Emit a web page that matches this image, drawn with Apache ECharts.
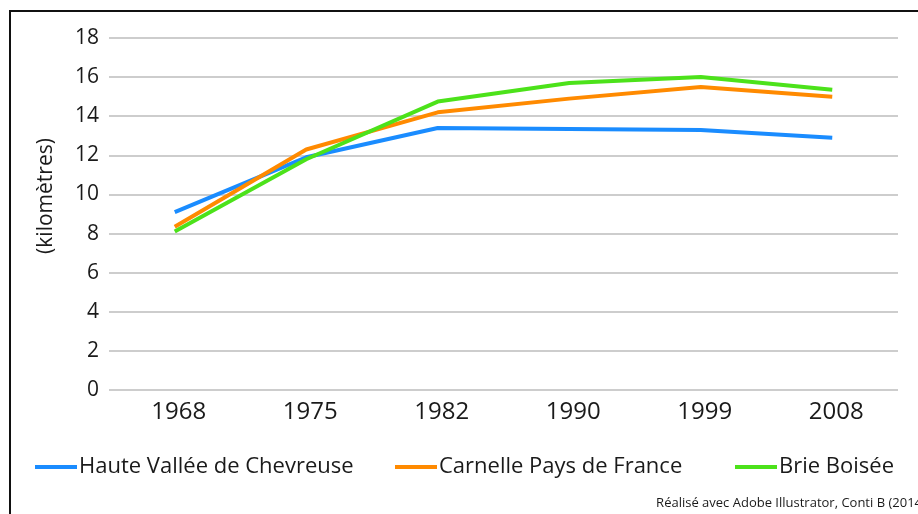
<!DOCTYPE html>
<html>
<head>
<meta charset="utf-8">
<script src="https://cdn.jsdelivr.net/npm/echarts@6/dist/echarts.min.js"></script>
<style>
html, body { margin: 0; padding: 0; background: #fff; }
#chart { width: 918px; height: 514px; }
</style>
</head>
<body>
<div id="chart"></div>
<script>
// données
var annees = ['1968', '1975', '1982', '1990', '1999', '2008'];
var hauteVallee = [9.1, 11.9, 13.4, 13.35, 13.3, 12.9];
var carnelle = [8.35, 12.3, 14.2, 14.9, 15.5, 15.0];
var brieBoisee = [8.1, 11.8, 14.75, 15.7, 16.0, 15.35];
var nomsSeries = ['Haute Vallée de Chevreuse', 'Carnelle Pays de France', 'Brie Boisée'];
var couleurs = ['#1a8cff', '#ff8a00', '#4ce21a'];

var police = 'Open Sans';
var myChart = echarts.init(document.getElementById('chart'));

function serie(i, data) {
	return {
		name: nomsSeries[i],
		type: 'line',
		data: data,
		symbol: 'none',
		lineStyle: { color: couleurs[i], width: 4 },
		itemStyle: { color: couleurs[i] }
	};
}

function legende(i, left) {
	return {
		data: [nomsSeries[i]],
		left: left,
		top: 451,
		itemWidth: 42,
		itemHeight: 4,
		itemGap: 0,
		icon: 'rect',
		textStyle: { fontFamily: police, fontSize: 22, color: '#1a1a1a', padding: [0, 0, 0, -3] }
	};
}

var option = {
	backgroundColor: '#fff',
	animation: false,
	grid: { left: 109, right: 20, top: 38, bottom: 124 },
	legend: [legende(0, 30), legende(1, 390), legende(2, 730)],
	xAxis: {
		type: 'category',
		data: annees,
		boundaryGap: true,
		axisLine: { show: false },
		axisTick: { show: false },
		axisLabel: { fontFamily: police, fontSize: 24, color: '#1a1a1a', margin: 10, padding: [0, 0, 0, 8] }
	},
	yAxis: {
		type: 'value',
		min: 0,
		max: 18,
		interval: 2,
		axisLine: { show: false },
		axisTick: { show: false },
		axisLabel: { fontFamily: police, fontSize: 21, color: '#1a1a1a', margin: 10 },
		splitLine: { lineStyle: { color: '#bdbdbd', width: 1.5 } }
	},
	series: [serie(0, hauteVallee), serie(1, carnelle), serie(2, brieBoisee)],
	graphic: [
		{
			type: 'rect',
			shape: { x: 10, y: 11, width: 940, height: 540 },
			style: { fill: 'none', stroke: '#111', lineWidth: 2 },
			silent: true
		},
		{
			type: 'text',
			x: 46,
			y: 196,
			rotation: Math.PI / 2,
			style: {
				text: '(kilomètres)', fontFamily: police, fontSize: 21, fill: '#1a1a1a',
				align: 'center', verticalAlign: 'middle'
			}
		},
		{
			type: 'text',
			right: -4,
			top: 497,
			style: { text: 'Réalisé avec Adobe Illustrator, Conti B (2014', fontFamily: police, fontSize: 13, fill: '#1a1a1a' }
		}
	]
};
myChart.setOption(option);
</script>
</body>
</html>
